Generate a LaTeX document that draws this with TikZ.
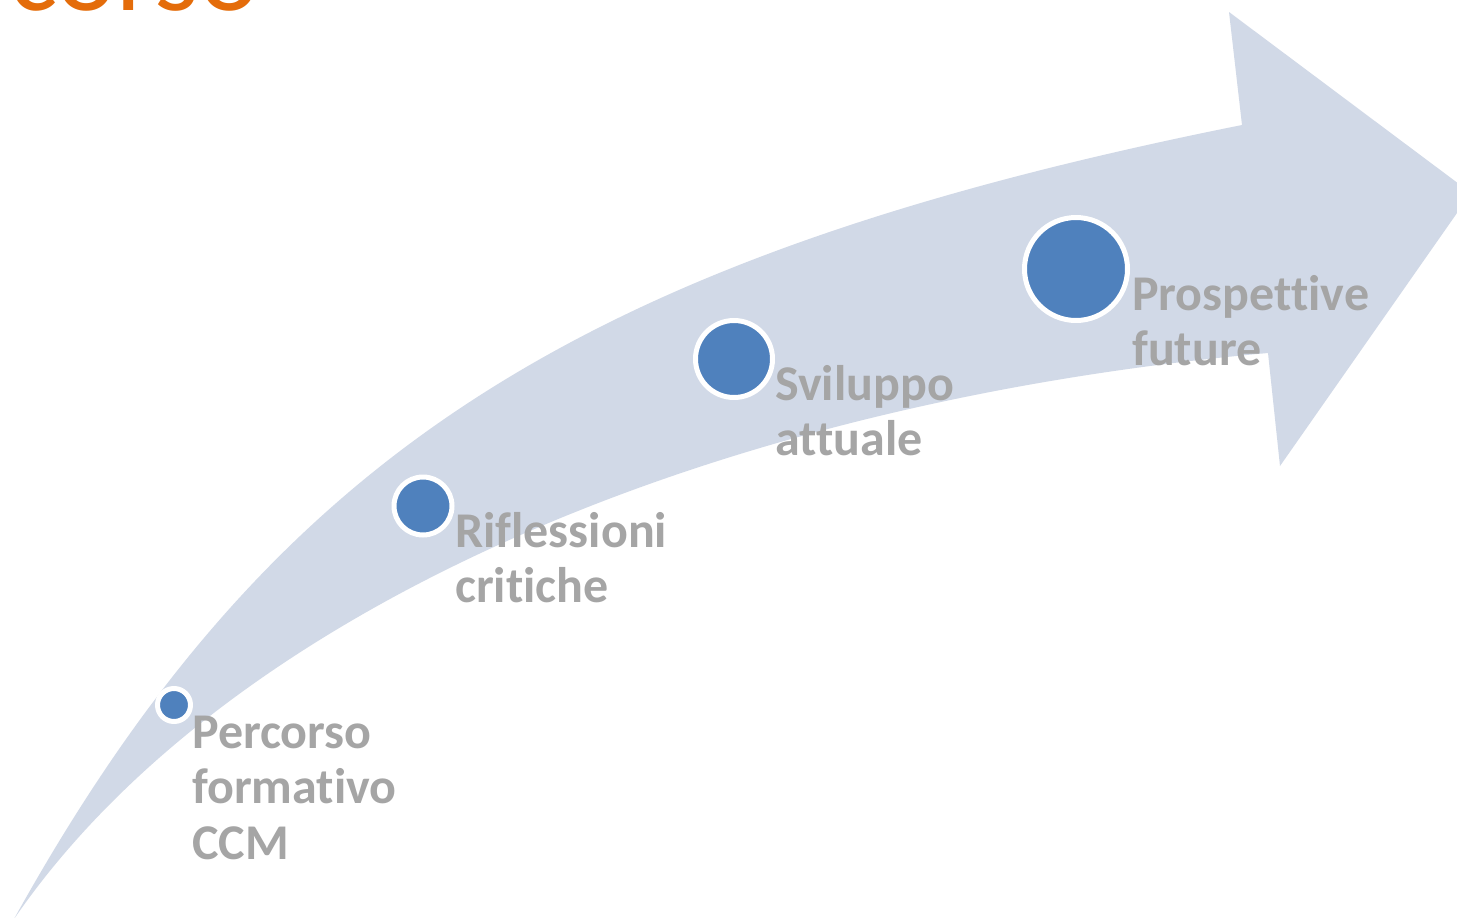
\documentclass[tikz,border=0pt]{standalone}
\usepackage{fontspec}
\setmainfont[Ligatures=NoCommon]{Carlito}
\definecolor{arrowblue}{HTML}{D1D9E7}
\definecolor{dotblue}{HTML}{4F81BD}
\definecolor{labelgray}{HTML}{A5A5A5}
\definecolor{titleorange}{HTML}{E46C0A}
\tikzset{
  dot/.style={circle, fill=dotblue, draw=white, line width=5pt, inner sep=0pt},
  lbl/.style={anchor=base west, inner sep=0pt, text=labelgray, font=\fontsize{50}{55.5}\selectfont\bfseries},
}
\begin{document}
\begin{tikzpicture}[x=1pt,y=-1pt]
\useasboundingbox (0,0) rectangle (1457,918);
\clip (0,0) rectangle (1457,918);
\fill[white] (0,0) rectangle (1457,918);
\node[anchor=base west, inner sep=0pt, text=titleorange, font=\fontsize{114}{124}\selectfont] (title) at (9,10) {corso};
\fill[arrowblue] (14,919) .. controls (271,456) and (578,258) .. (1242,125)
  -- (1229,12) -- (1471,193) -- (1280,466) -- (1268,353)
  .. controls (708,403) and (225,612) .. (14,919) -- cycle;
\node[dot, minimum size=33pt] (d1) at (174,705) {};
\node[dot, minimum size=58pt] (d2) at (423,506) {};
\node[dot, minimum size=77pt] (d3) at (734,359) {};
\node[dot, minimum size=103pt] (d4) at (1076,269) {};
\node[lbl] (l1) at (192,748) {\begin{tabular}[t]{@{}l@{}}Percorso\\formativo\\CCM\end{tabular}};
\node[lbl] (l2) at (455,547) {\begin{tabular}[t]{@{}l@{}}Riflessioni\\critiche\end{tabular}};
\node[lbl] (l3) at (775,400) {\begin{tabular}[t]{@{}l@{}}Sviluppo\\attuale\end{tabular}};
\node[lbl] (l4) at (1132,310) {\begin{tabular}[t]{@{}l@{}}Prospettive\\future\end{tabular}};
\end{tikzpicture}
\end{document}
